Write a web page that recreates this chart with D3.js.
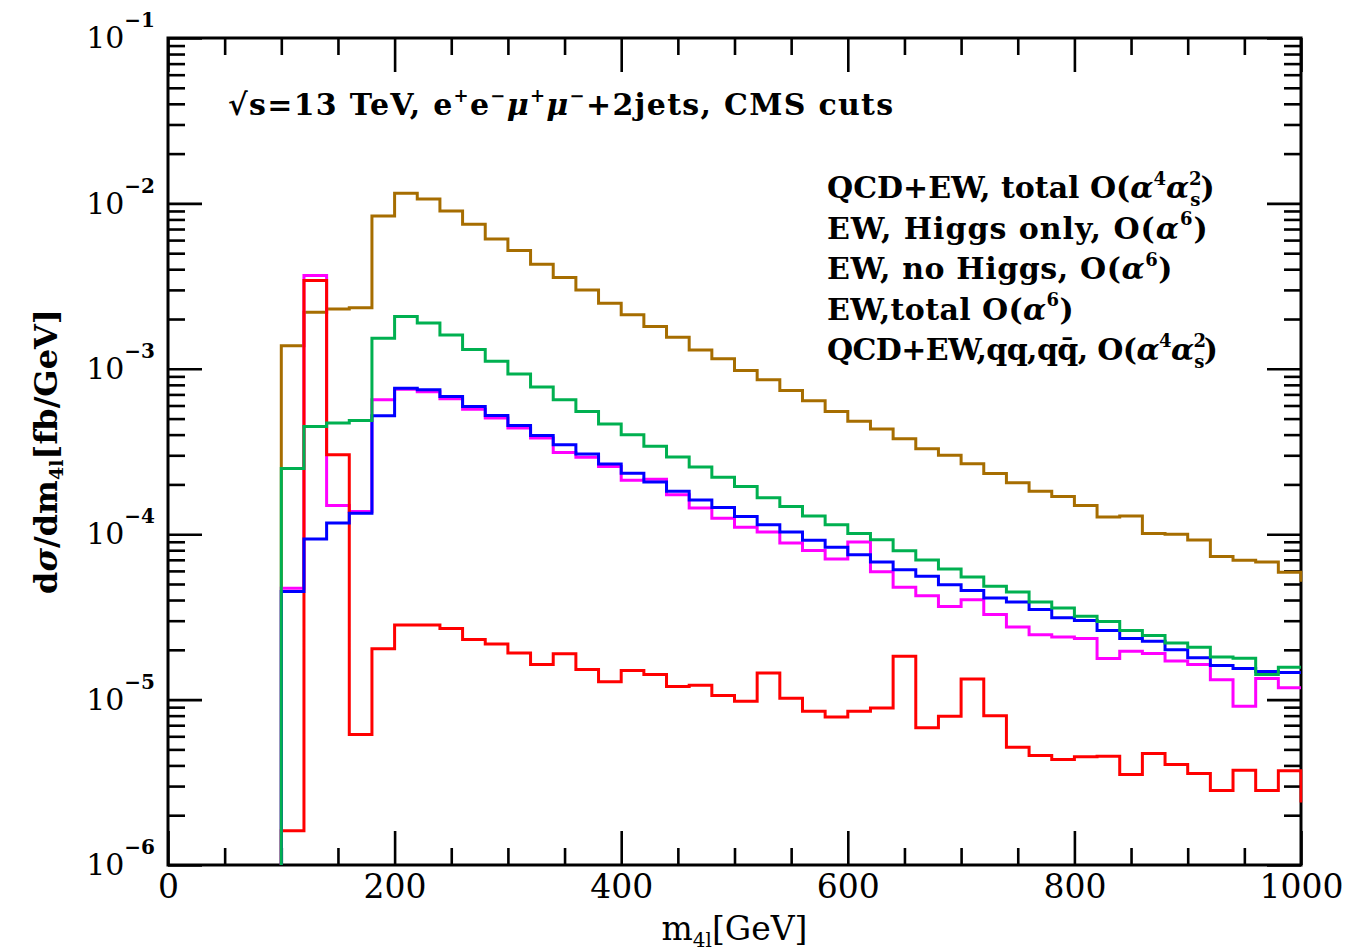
<!DOCTYPE html>
<html>
<head>
<meta charset="utf-8">
<script src="https://cdn.jsdelivr.net/npm/d3@7"></script>
<style>
  body { margin: 0; background: #fff; }
  svg { display: block; }
  .axis line { stroke: #000; stroke-width: 2.6px; }
  .axis path { display: none; }
  text { font-family: "DejaVu Serif", serif; fill: #000; }
</style>
</head>
<body>
<div id="chart"></div>
<script>
// bins of 20 GeV from 100 to 1000 GeV (low edges)
const binLow = d3.range(100, 1000, 20);

// d sigma / d m4l [fb/GeV]
const qcdEwTotal = [1.38e-3, 2.2e-3, 2.3e-3, 2.34e-3, 8.4e-3, 1.15e-2, 1.065e-2, 9.0e-3, 7.48e-3, 6.1e-3,
  5.19e-3, 4.29e-3, 3.56e-3, 3.0e-3, 2.49e-3, 2.12e-3, 1.80e-3, 1.55e-3, 1.30e-3, 1.15e-3,
  9.77e-4, 8.59e-4, 7.4e-4, 6.41e-4, 5.52e-4, 4.81e-4, 4.32e-4, 3.77e-4, 3.29e-4, 3.0e-4,
  2.67e-4, 2.33e-4, 2.05e-4, 1.82e-4, 1.69e-4, 1.49e-4, 1.27e-4, 1.29e-4, 1.01e-4, 1.0e-4,
  9.22e-5, 7.34e-5, 6.95e-5, 6.79e-5, 5.88e-5];
const ewHiggsOnly = [1.61e-6, 3.42e-3, 3.02e-4, 6.15e-6, 2.03e-5, 2.83e-5, 2.83e-5, 2.69e-5, 2.31e-5, 2.17e-5,
  1.91e-5, 1.63e-5, 1.89e-5, 1.52e-5, 1.28e-5, 1.50e-5, 1.42e-5, 1.20e-5, 1.22e-5, 1.06e-5,
  9.77e-6, 1.45e-5, 1.02e-5, 8.49e-6, 7.85e-6, 8.49e-6, 8.91e-6, 1.83e-5, 6.75e-6, 7.92e-6,
  1.33e-5, 8.0e-6, 5.15e-6, 4.59e-6, 4.34e-6, 4.51e-6, 4.55e-6, 3.52e-6, 4.72e-6, 4.05e-6,
  3.57e-6, 2.82e-6, 3.74e-6, 2.82e-6, 3.72e-6];
const ewNoHiggs = [4.51e-5, 9.35e-5, 1.17e-4, 1.34e-4, 5.2e-4, 7.64e-4, 7.46e-4, 6.8e-4, 5.92e-4, 5.22e-4,
  4.54e-4, 3.95e-4, 3.47e-4, 3.05e-4, 2.66e-4, 2.34e-4, 2.07e-4, 1.82e-4, 1.61e-4, 1.45e-4,
  1.28e-4, 1.14e-4, 1.03e-4, 9.18e-5, 8.33e-5, 7.51e-5, 6.79e-5, 6.1e-5, 5.56e-5, 4.95e-5,
  4.56e-5, 4.12e-5, 3.89e-5, 3.5e-5, 3.12e-5, 3.01e-5, 2.62e-5, 2.34e-5, 2.25e-5, 2.0e-5,
  1.79e-5, 1.61e-5, 1.54e-5, 1.48e-5, 1.46e-5];
const ewTotal = [4.71e-5, 3.66e-3, 1.49e-4, 1.37e-4, 6.5e-4, 7.53e-4, 7.27e-4, 6.59e-4, 5.7e-4, 5.04e-4,
  4.38e-4, 3.81e-4, 3.12e-4, 2.92e-4, 2.57e-4, 2.12e-4, 2.15e-4, 1.73e-4, 1.44e-4, 1.25e-4,
  1.10e-4, 1.03e-4, 8.86e-5, 7.98e-5, 7.08e-5, 8.98e-5, 5.92e-5, 4.78e-5, 4.25e-5, 3.66e-5,
  4.02e-5, 3.27e-5, 2.75e-5, 2.47e-5, 2.39e-5, 2.34e-5, 1.77e-5, 1.96e-5, 1.90e-5, 1.71e-5,
  1.63e-5, 1.32e-5, 9.12e-6, 1.34e-5, 1.18e-5];
const qcdEwQq = [2.50e-4, 4.48e-4, 4.70e-4, 4.87e-4, 1.53e-3, 2.07e-3, 1.89e-3, 1.60e-3, 1.31e-3, 1.11e-3,
  9.29e-4, 7.75e-4, 6.5e-4, 5.52e-4, 4.63e-4, 3.99e-4, 3.40e-4, 2.93e-4, 2.55e-4, 2.21e-4,
  1.94e-4, 1.66e-4, 1.47e-4, 1.29e-4, 1.14e-4, 1.01e-4, 9.27e-5, 7.95e-5, 6.98e-5, 6.16e-5,
  5.51e-5, 4.84e-5, 4.48e-5, 3.89e-5, 3.58e-5, 3.19e-5, 2.97e-5, 2.62e-5, 2.44e-5, 2.20e-5,
  2.07e-5, 1.81e-5, 1.78e-5, 1.42e-5, 1.57e-5];
// first bin past 1000 GeV (only its edge shows)
const overflowBin = {qcdEwTotal: 5.16e-5, ewHiggsOnly: 2.39e-6};

const xMajorTicks = [0, 200, 400, 600, 800, 1000];
const xTickLabels = ["0", "200", "400", "600", "800", "1000"];
const yDecades = [-6, -5, -4, -3, -2, -1];

const colors = {
  qcdEwTotal: "#a66d00",
  ewHiggsOnly: "#ff0000",
  ewNoHiggs: "#0000ff",
  ewTotal: "#ff00ff",
  qcdEwQq: "#00b050"
};

// legend text pieces: [text, kind]
const legendLabels = [
  {key: "qcdEwTotal", parts: [["QCD+EW, total O("], ["α", "it"], ["4", "sup"], ["α", "it"], ["2", "sup"], ["s", "under"], [")"]]},
  {key: "ewHiggsOnly", parts: [["EW, Higgs only, O("], ["α", "it"], ["6", "sup"], [")"]]},
  {key: "ewNoHiggs", parts: [["EW, no Higgs, O("], ["α", "it"], ["6", "sup"], [")"]]},
  {key: "ewTotal", parts: [["EW,total O("], ["α", "it"], ["6", "sup"], [")"]]},
  {key: "qcdEwQq", parts: [["QCD+EW,qq,qq\u0304, O("], ["α", "it"], ["4", "sup"], ["α", "it"], ["2", "sup"], ["s", "under"], [")"]]}
];
const legendSpacing = [0, 1.0, 0.6, 0.4, -0.6];
const titleParts = [["√s=13 TeV, e"], ["+", "sup"], ["e"], ["−", "sup"], ["μ", "it"], ["+", "sup"], ["μ", "it"], ["−", "sup"], ["+2jets, CMS cuts"]];

const margin = {top: 38, right: 46, bottom: 86, left: 168};
const W = 1347, H = 951;
const width = W - margin.left - margin.right;
const height = H - margin.top - margin.bottom;

const svg = d3.select("#chart").append("svg")
  .attr("width", W)
  .attr("height", H);
const g = svg.append("g")
  .attr("transform", "translate(" + margin.left + "," + margin.top + ")");

const x = d3.scaleLinear().domain([0, 1000]).range([0, width]);
const y = d3.scaleLog().domain([1e-6, 1e-1]).range([height, 0]);

const xMinorTicks = d3.range(50, 1000, 50).filter(v => v % 200 !== 0);
const yMinorTicks = [];
yDecades.slice(0, -1).forEach(k => {
  for (let m = 2; m <= 9; m++) yMinorTicks.push(m * Math.pow(10, k));
});
const yMajorTicks = yDecades.map(k => Math.pow(10, k));

// frame
g.append("rect")
  .attr("width", width)
  .attr("height", height)
  .attr("fill", "none")
  .attr("stroke", "#000")
  .attr("stroke-width", 3);

// ticks on all four sides
const major = 34, minor = 17;
g.append("g").attr("class", "axis xBottom")
  .attr("transform", "translate(0," + height + ")")
  .call(d3.axisBottom(x).tickValues(xMajorTicks).tickSize(-major).tickSizeOuter(0).tickPadding(10)
    .tickFormat((d, i) => xTickLabels[i]));
g.append("g").attr("class", "axis")
  .attr("transform", "translate(0," + height + ")")
  .call(d3.axisBottom(x).tickValues(xMinorTicks).tickSize(-minor).tickSizeOuter(0).tickFormat(""));
g.append("g").attr("class", "axis")
  .call(d3.axisTop(x).tickValues(xMajorTicks).tickSize(-major).tickSizeOuter(0).tickFormat(""));
g.append("g").attr("class", "axis")
  .call(d3.axisTop(x).tickValues(xMinorTicks).tickSize(-minor).tickSizeOuter(0).tickFormat(""));

const yLeft = g.append("g").attr("class", "axis yLeft")
  .call(d3.axisLeft(y).tickValues(yMajorTicks).tickSize(-major).tickSizeOuter(0).tickPadding(13).tickFormat(""));
g.append("g").attr("class", "axis")
  .call(d3.axisLeft(y).tickValues(yMinorTicks).tickSize(-minor).tickSizeOuter(0).tickFormat(""));
g.append("g").attr("class", "axis")
  .attr("transform", "translate(" + width + ",0)")
  .call(d3.axisRight(y).tickValues(yMajorTicks).tickSize(-major).tickSizeOuter(0).tickFormat(""));
g.append("g").attr("class", "axis")
  .attr("transform", "translate(" + width + ",0)")
  .call(d3.axisRight(y).tickValues(yMinorTicks).tickSize(-minor).tickSizeOuter(0).tickFormat(""));

g.select(".xBottom").selectAll("text")
  .attr("font-family", "DejaVu Serif")
  .attr("font-size", 33)
  .attr("fill", "#000");

yLeft.selectAll(".tick text")
  .attr("font-family", "DejaVu Serif")
  .attr("font-size", 30)
  .attr("fill", "#000")
  .each(function (d) {
    const t = d3.select(this);
    t.append("tspan").text("10");
    t.append("tspan")
      .attr("dy", -21)
      .attr("font-size", 20)
      .attr("font-weight", "bold")
      .text("−" + Math.abs(Math.round(Math.log10(d))));
  });

// helper: write text pieces with super/subscripts
function writeParts(sel, parts, size) {
  const supSize = Math.round(size * 0.6);
  let cur = 0;
  parts.forEach(p => {
    const kind = p[1] || "normal";
    let target = 0;
    if (kind === "sup") target = -size * 0.45;
    if (kind === "sub") target = size * 0.2;
    if (kind === "under") target = size * 0.25;
    const ts = sel.append("tspan").text(p[0]).attr("dy", target - cur);
    if (kind === "sup" || kind === "sub" || kind === "under") ts.attr("font-size", supSize);
    if (kind === "under") ts.attr("dx", -supSize * 0.62);
    if (kind === "it") ts.attr("font-style", "italic");
    cur = target;
  });
}

// histograms
g.append("clipPath").attr("id", "plotClip")
  .append("rect")
  .attr("x", 0).attr("y", 0)
  .attr("width", width + 1.5).attr("height", height);

const stepLine = d3.line()
  .x(d => x(d[0]))
  .y(d => y(d[1]))
  .curve(d3.curveStepAfter);

const seriesTable = [
  {key: "qcdEwTotal", values: qcdEwTotal},
  {key: "ewTotal", values: ewTotal},
  {key: "ewHiggsOnly", values: ewHiggsOnly},
  {key: "ewNoHiggs", values: ewNoHiggs},
  {key: "qcdEwQq", values: qcdEwQq}
];

const histG = g.append("g").attr("clip-path", "url(#plotClip)");
seriesTable.forEach(s => {
  const pts = [[binLow[0], 1e-8]];
  s.values.forEach((v, i) => pts.push([binLow[i], v]));
  pts.push([1000, s.values[s.values.length - 1]]);
  if (overflowBin[s.key]) pts.push([1000, overflowBin[s.key]]);
  histG.append("path")
    .datum(pts)
    .attr("fill", "none")
    .attr("stroke", colors[s.key])
    .attr("stroke-width", 3)
    .attr("d", stepLine);
});

// title
const title = svg.append("text")
  .attr("x", 228)
  .attr("y", 115)
  .attr("font-size", 30)
  .attr("font-weight", "bold")
  .attr("letter-spacing", 1.3);
writeParts(title, titleParts, 30);

// legend
legendLabels.forEach((item, i) => {
  const t = svg.append("text")
    .attr("x", 827)
    .attr("y", 198 + i * 40.5)
    .attr("font-size", 30)
    .attr("font-weight", "bold")
    .attr("letter-spacing", legendSpacing[i])
    .attr("fill", colors[item.key]);
  writeParts(t, item.parts, 30);
});

// axis labels
const xLab = svg.append("text")
  .attr("x", margin.left + width / 2)
  .attr("y", 940)
  .attr("text-anchor", "middle")
  .attr("font-size", 33);
writeParts(xLab, [["m"], ["4l", "sub"], ["[GeV]"]], 33);

const yLab = svg.append("text")
  .attr("transform", "translate(57," + (margin.top + height / 2) + ") rotate(-90)")
  .attr("text-anchor", "middle")
  .attr("font-size", 32)
  .attr("font-weight", "bold");
writeParts(yLab, [["d"], ["σ", "it"], ["/dm"], ["4l", "sub"], ["[fb/GeV]"]], 32);
</script>
</body>
</html>
